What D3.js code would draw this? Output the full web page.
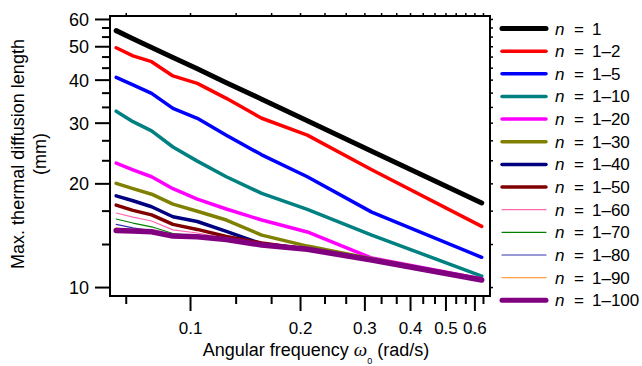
<!DOCTYPE html>
<html><head><meta charset="utf-8">
<script src="https://cdn.jsdelivr.net/npm/d3@7/dist/d3.min.js"></script>
<style>body{margin:0;background:#fff;} svg{display:block;} text{font-family:Arial,"Liberation Sans",sans-serif;fill:#000;}</style>
</head><body><svg id="c" width="642" height="366"></svg>
<script>
// angular frequency (rad/s)
const omega = [0.0628, 0.0698, 0.0785, 0.0898, 0.1047, 0.1257, 0.1571, 0.2094, 0.3142, 0.6283];
const seriesNames = ["1", "1\u20132", "1\u20135", "1\u201310", "1\u201320", "1\u201330", "1\u201340", "1\u201350", "1\u201360", "1\u201370", "1\u201380", "1\u201390", "1\u2013100"];
const n1   = [55.5, 52.6, 49.6, 46.4, 43.0, 39.2, 35.1, 30.4, 24.8, 17.55];
const n2   = [49.5, 46.9, 45.1, 41.0, 39.0, 35.3, 30.9, 27.6, 21.9, 15.0];
const n5   = [40.6, 38.6, 36.5, 33.0, 30.9, 27.6, 24.2, 20.9, 16.5, 12.2];
const n10  = [32.4, 30.2, 28.4, 25.5, 23.2, 20.9, 18.7, 16.8, 14.15, 10.76];
const n20  = [22.9, 21.9, 20.9, 19.3, 18.0, 16.85, 15.65, 14.45, 12.14, 10.55];
const n30  = [20.0, 19.3, 18.6, 17.4, 16.6, 15.65, 14.15, 13.15, 12.08, 10.5];
const n40  = [18.4, 17.8, 17.1, 16.0, 15.5, 14.5, 13.35, 12.9, 12.0, 10.48];
const n50  = [17.3, 16.7, 16.2, 15.2, 14.7, 14.02, 13.42, 12.88, 11.98, 10.48];
const n60  = [16.4, 15.96, 15.55, 14.65, 14.35, 13.85, 13.24, 12.87, 11.98, 10.48];
const n70  = [15.76, 15.34, 14.96, 14.3, 14.05, 13.8, 13.24, 12.87, 11.98, 10.48];
const n80  = [15.2, 14.85, 14.55, 14.1, 14.0, 13.75, 13.24, 12.87, 11.98, 10.48];
const n90  = [14.85, 14.6, 14.5, 14.06, 14.0, 13.75, 13.24, 12.87, 11.98, 10.48];
const n100 = [14.6, 14.55, 14.47, 14.06, 14.0, 13.75, 13.24, 12.87, 11.98, 10.48];
const seriesValues = [n1, n2, n5, n10, n20, n30, n40, n50, n60, n70, n80, n90, n100];
const seriesColors = ["#000000", "#ff0000", "#0000ff", "#008080", "#ff00ff", "#808000", "#000080", "#800000", "#ff69b4", "#008000", "#3333b0", "#ffa040", "#800080"];
const seriesWidths = [5, 3.5, 3.5, 3.5, 3.5, 3.5, 3.5, 3.5, 1.2, 1.2, 1.2, 1.2, 5.5];
const xTickValues = [0.1, 0.2, 0.3, 0.4, 0.5, 0.6];
const xTickLabels = ["0.1", "0.2", "0.3", "0.4", "0.5", "0.6"];
const xMinorTicks = [0.0667, 0.1333, 0.1667, 0.2333, 0.2667, 0.3333, 0.3667, 0.4333, 0.4667, 0.5333, 0.5667, 0.6333];
const yTickValues = [10, 20, 30, 40, 50, 60];
const yTickLabels = ["10", "20", "30", "40", "50", "60"];
const yMinorTicks = [13.333, 16.667, 23.333, 26.667, 33.333, 36.667, 43.333, 46.667, 53.333, 56.667];

const svg = d3.select("#c");
const L = 110, R = 490, T = 16, B = 296;
const x = d3.scaleLog().domain([0.0604, 0.662]).range([L, R]);
const y = d3.scaleLog().domain([9.42, 61.2]).range([B, T]);

// lines
const line = d3.line().x((d, i) => x(omega[i])).y(d => y(d)).curve(d3.curveLinear);
const gLines = svg.append("g");
seriesValues.forEach((vals, k) => {
  gLines.append("path").attr("d", line(vals)).attr("fill", "none")
    .attr("stroke", seriesColors[k]).attr("stroke-width", seriesWidths[k])
    .attr("stroke-linejoin", "round").attr("stroke-linecap", "round");
});

// axes
function styleAxis(g, fs) {
  g.select(".domain").remove();
  g.selectAll(".tick line").attr("stroke", "#000").attr("stroke-width", 2);
  g.selectAll(".tick text").style("font-size", fs + "px").style("font-family", "Arial, 'Liberation Sans', sans-serif");
}
const xAxis = svg.append("g").attr("transform", `translate(0,${B})`)
  .call(d3.axisBottom(x).tickValues(xTickValues).tickFormat((d, i) => xTickLabels[i]).tickSize(15).tickPadding(11));
styleAxis(xAxis, 17);
const xAxisMinor = svg.append("g").attr("transform", `translate(0,${B})`)
  .call(d3.axisBottom(x).tickValues(xMinorTicks).tickFormat("").tickSize(8));
styleAxis(xAxisMinor, 17);
const yAxis = svg.append("g").attr("transform", `translate(${L},0)`)
  .call(d3.axisLeft(y).tickValues(yTickValues).tickFormat((d, i) => yTickLabels[i]).tickSize(15).tickPadding(6));
styleAxis(yAxis, 18);
yAxis.selectAll(".tick text").attr("dy", "0.36em");
const yAxisMinor = svg.append("g").attr("transform", `translate(${L},0)`)
  .call(d3.axisLeft(y).tickValues(yMinorTicks).tickFormat("").tickSize(8));
styleAxis(yAxisMinor, 17);
// mirrored small ticks top/right
const xTop = svg.append("g").attr("transform", `translate(0,${T})`)
  .call(d3.axisTop(x).tickValues(xTickValues.concat(xMinorTicks)).tickFormat("").tickSize(3));
styleAxis(xTop, 17); xTop.selectAll(".tick line").attr("stroke-width", 1.5);
const yRight = svg.append("g").attr("transform", `translate(${R},0)`)
  .call(d3.axisRight(y).tickValues(yTickValues.concat(yMinorTicks)).tickFormat("").tickSize(3));
styleAxis(yRight, 17); yRight.selectAll(".tick line").attr("stroke-width", 1.5);

// frame
svg.append("rect").attr("x", L).attr("y", T).attr("width", R - L).attr("height", B - T)
  .attr("fill", "none").attr("stroke", "#000").attr("stroke-width", 2);

// axis titles
const yt = svg.append("g").attr("transform", "translate(24,154) rotate(-90)");
yt.append("text").attr("text-anchor", "middle").style("font-size", "18px").text("Max. thermal diffusion length");
yt.append("text").attr("text-anchor", "middle").attr("y", 22).style("font-size", "18px").text("(mm)");

const xt = svg.append("text").attr("x", 316).attr("y", 356).attr("text-anchor", "middle").style("font-size", "18px");
xt.append("tspan").text("Angular frequency ");
xt.append("tspan").style("font-family", "'Liberation Serif', 'DejaVu Serif', serif").style("font-style", "italic").style("font-size", "19px").text("\u03c9");
xt.append("tspan").attr("dy", 8).style("font-size", "9px").text("0");
xt.append("tspan").attr("dy", -8).text(" (rad/s)");

// legend
const lg = svg.append("g");
seriesNames.forEach((name, k) => {
  const yy = 28.5 + k * 22.65;
  lg.append("line").attr("x1", 502).attr("x2", 546).attr("y1", yy).attr("y2", yy)
    .attr("stroke", seriesColors[k]).attr("stroke-width", k === 0 || k === 12 ? 5 : (seriesWidths[k] < 2 ? 1.2 : 3.5))
    .attr("stroke-linecap", "round");
  const t = lg.append("text").attr("y", yy + 6).style("font-size", "17px");
  t.append("tspan").attr("x", 555).style("font-style", "italic").text("n");
  t.append("tspan").attr("x", 574).text("=");
  t.append("tspan").attr("x", 592).text(name);
});
</script></body></html>
